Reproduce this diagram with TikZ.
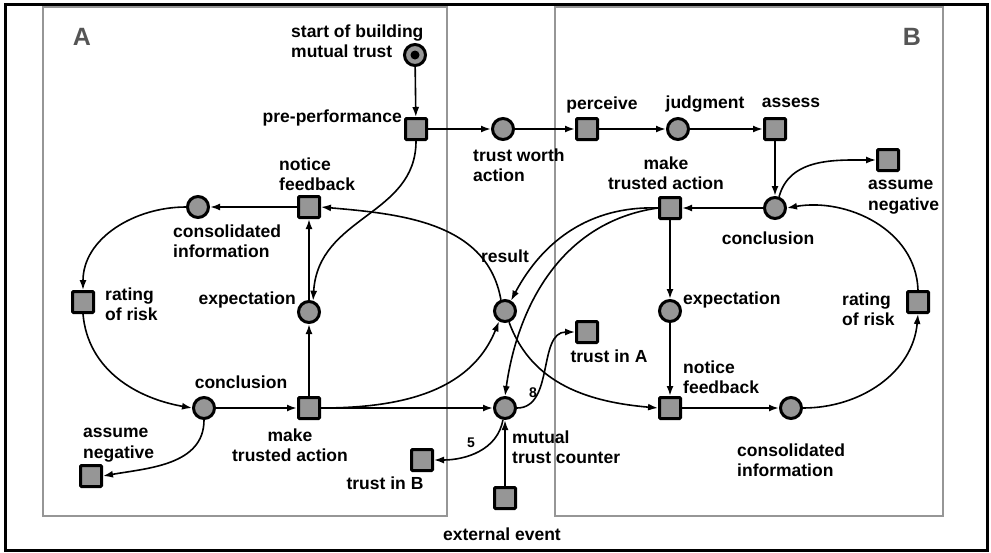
\documentclass[tikz,border=0pt]{standalone}
\usepackage{fontspec}
\setmainfont{Liberation Sans}
\usetikzlibrary{arrows.meta}
\definecolor{tokgray}{RGB}{150,150,150}
\definecolor{boxgray}{RGB}{150,150,150}
\definecolor{letgray}{RGB}{85,85,85}
\begin{document}
\begin{tikzpicture}[x=1pt, y=-1pt, >={Latex[length=10pt,width=7pt]},
  place/.style={circle, draw, line width=3pt, fill=tokgray, minimum size=21pt, inner sep=0pt},
  trans/.style={rectangle, draw, line width=3pt, fill=tokgray, minimum size=21pt, inner sep=0pt, rounded corners=1pt},
  lbl/.style={font=\bfseries\fontsize{17.5}{20.5}\selectfont, inner sep=0pt, align=left},
  num/.style={font=\bfseries\fontsize{14}{16}\selectfont, inner sep=0pt},
  flow/.style={->, line width=1.6pt},
  mid/.style={->, line width=2pt},
  main/.style={->, line width=2.8pt}]
  \useasboundingbox (0,0) rectangle (991,552);
  % 外框和区域
  \draw[line width=3pt] (5.5,4.5) rectangle (987,550);
  \draw[boxgray, line width=1.5pt] (43,7) rectangle (447,516);
  \draw[boxgray, line width=1.5pt] (555,7) rectangle (943,516);
  \node[font=\bfseries\fontsize{25}{28}\selectfont, text=letgray] (sideA) at (82,37) {A};
  \node[font=\bfseries\fontsize{25}{28}\selectfont, text=letgray] (sideB) at (912,37) {B};

  % 节点定义
  \node[place] (start) at (415,55) {};
  \fill (start) circle (4.5pt);
  \node[trans] (pre) at (416,129) {};
  \node[place] (tw) at (503,129) {};
  \node[trans] (perc) at (587,129) {};
  \node[place] (judg) at (678,129) {};
  \node[trans] (ass) at (775,129) {};
  \node[place] (conclB) at (775,208) {};
  \node[trans] (makeB) at (670,208) {};
  \node[trans] (assB) at (888,160) {};
  \node[place] (expB) at (670,311) {};
  \node[trans] (notB) at (670,408) {};
  \node[place] (consB) at (791,408) {};
  \node[trans] (riskB) at (918,302) {};
  \node[trans] (trustA) at (587,332) {};
  \node[place] (counter) at (505,408) {};
  \node[trans] (ext) at (505,498) {};
  \node[place] (result) at (505,311) {};
  \node[trans] (trustB) at (422,460) {};
  \node[trans] (notA) at (309,207) {};
  \node[place] (consA) at (198,207) {};
  \node[trans] (riskA) at (83,302) {};
  \node[place] (expA) at (309,312) {};
  \node[place] (conclA) at (204,408) {};
  \node[trans] (makeA) at (309,408) {};
  \node[trans] (assA) at (91,476) {};

  % 标签
  \node[lbl, anchor=west] (lStart) at (291,41) {start of building\\mutual trust};
  \node[lbl, anchor=east] (lPre) at (402,118) {pre-performance};
  \node[lbl, anchor=west] (lTw) at (473,165) {trust worth\\action};
  \node[lbl] (lPerc) at (602,105) {perceive};
  \node[lbl] (lJudg) at (705,104) {judgment};
  \node[lbl] (lAss) at (791,103) {assess};
  \node[lbl, align=center] (lMakeB) at (666,173) {make\\trusted action};
  \node[lbl] (lConclB) at (768,238) {conclusion};
  \node[lbl, anchor=west] (lAssB) at (868,197) {assume\\negative};
  \node[lbl] (lResult) at (505,256) {result};
  \node[lbl, anchor=west] (lExpB) at (683,300) {expectation};
  \node[lbl, anchor=west] (lRiskB) at (842,309) {rating\\of risk};
  \node[lbl] (lTrustA) at (609,356) {trust in A};
  \node[lbl, anchor=west] (lNotB) at (683,377) {notice\\feedback};
  \node[lbl, anchor=west] (lConsB) at (737,460) {consolidated\\information};
  \node[lbl, anchor=west] (lCounter) at (512,447) {mutual\\trust counter};
  \node[lbl] (lExt) at (502,534) {external event};
  \node[lbl, anchor=west] (lNotA) at (279,174) {notice\\feedback};
  \node[lbl, anchor=west] (lConsA) at (173,241) {consolidated\\information};
  \node[lbl, anchor=west] (lRiskA) at (105,304) {rating\\of risk};
  \node[lbl, anchor=east] (lExpA) at (296,300) {expectation};
  \node[lbl] (lConclA) at (241,382) {conclusion};
  \node[lbl, align=center] (lMakeA) at (290,445) {make\\trusted action};
  \node[lbl, anchor=west] (lAssA) at (83,445) {assume\\negative};
  \node[lbl] (lTrustB) at (385,483) {trust in B};
  \node[num] (n8) at (533,393) {8};
  \node[num] (n5) at (471,443) {5};

  % 箭头
  \draw[flow] (start) -- (pre);
  \draw[mid] (pre) -- (tw);
  \draw[mid] (tw) -- (perc);
  \draw[mid] (perc) -- (judg);
  \draw[mid] (judg) -- (ass);
  \draw[mid] (ass) -- (conclB);
  \draw[main] (conclB) -- (makeB);
  \draw[flow] (conclB.70) to[out=75, in=180] (assB.west);
  \draw[main] (makeB) -- (expB);
  \draw[main] (expB) -- (notB);
  \draw[main] (notB) -- (consB);
  \draw[flow] (consB.east) to[out=0, in=-95] (riskB.south);
  \draw[flow] (riskB.north) to[out=92, in=10] (conclB.east);
  \draw[flow] (makeB.west) to[out=178, in=62] (result.60);
  \draw[flow] (makeB.west) to[out=188, in=82] (counter.north);
  \draw[flow] (result.-70) to[out=-70, in=175] (notB.west);
  \draw[flow] (makeA.east) to[out=0, in=-112] (result.-120);
  \draw[main] (makeA) -- (counter);
  \draw[flow] (counter.east) to[out=0, in=180] (trustA.west);
  \draw[flow] (counter.-100) to[out=-100, in=0] (trustB.east);
  \draw[main] (ext) -- (counter);
  \draw[flow] (pre.south) .. controls +(0,75) and +(5,-85) .. (expA.70);
  \draw[flow] (result.110) to[out=100, in=-5] (notA.east);
  \draw[main] (notA) -- (consA);
  \draw[flow] (consA.west) to[out=180, in=90] (riskA.north);
  \draw[flow] (riskA.south) to[out=-85, in=170] (conclA.west);
  \draw[main] (conclA) -- (makeA);
  \draw[main] (makeA) -- (expA);
  \draw[main] (expA) -- (notA);
  \draw[flow] (conclA.south) to[out=-90, in=10] (assA.east);
\end{tikzpicture}
\end{document}
